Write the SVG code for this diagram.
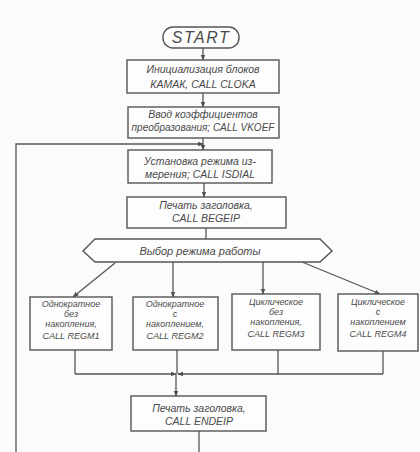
<svg xmlns="http://www.w3.org/2000/svg" width="420" height="452" viewBox="0 0 420 452">
<defs>
<marker id="ah" viewBox="0 0 10 10" refX="9" refY="5" markerWidth="6" markerHeight="6" orient="auto" markerUnits="userSpaceOnUse"><path d="M0,1 L10,5 L0,9 z" fill="#505050"/></marker>
</defs>
<style>
.b{fill:#fdfdfd;stroke:#555;stroke-width:1.4}
.c{fill:none;stroke:#555;stroke-width:1.3}
.t{font-family:"Liberation Sans",Arial,sans-serif;font-style:italic;fill:#4a4a4a;text-anchor:middle}
.m{font-size:10.5px}
.s{font-size:9px}
</style>
<rect width="420" height="452" fill="#fbfbfb"/>
<g id="connectors">
<line class="c" x1="203" y1="48" x2="203" y2="60" marker-end="url(#ah)"/>
<line class="c" x1="203" y1="93" x2="203" y2="107" marker-end="url(#ah)"/>
<line class="c" x1="203" y1="138" x2="203" y2="150" marker-end="url(#ah)"/>
<polyline class="c" points="16,452 16,144 203,144" marker-end="url(#ah)"/>
<line class="c" x1="204" y1="183" x2="204" y2="197" marker-end="url(#ah)"/>
<line class="c" x1="206" y1="228" x2="206" y2="239"/>
<line class="c" x1="115" y1="263" x2="73" y2="297" marker-end="url(#ah)"/>
<line class="c" x1="173" y1="262" x2="173" y2="297" marker-end="url(#ah)"/>
<line class="c" x1="263" y1="262" x2="263" y2="294" marker-end="url(#ah)"/>
<line class="c" x1="302" y1="262" x2="380" y2="294" marker-end="url(#ah)"/>
<line class="c" x1="75" y1="350" x2="75" y2="374"/>
<line class="c" x1="177" y1="350" x2="177" y2="374"/>
<line class="c" x1="278" y1="350" x2="278" y2="374"/>
<line class="c" x1="383" y1="351" x2="383" y2="374"/>
<line class="c" x1="75" y1="374" x2="176" y2="374" marker-end="url(#ah)"/>
<line class="c" x1="383" y1="374" x2="178" y2="374" marker-end="url(#ah)"/>
<line class="c" x1="176" y1="374" x2="176" y2="396" marker-end="url(#ah)"/>
<line class="c" x1="199" y1="431" x2="199" y2="452"/>
</g>
<g id="start">
<rect class="b" x="163" y="27" width="76" height="21" rx="10" ry="10"/>
<text class="t" x="201" y="43" font-size="16" letter-spacing="1.5">START</text>
</g>
<g id="init">
<rect class="b" x="127" y="60" width="152" height="33"/>
<text class="t m" x="203" y="73">Инициализация блоков</text>
<text class="t m" x="203" y="88">КАМАК, CALL CLOKA</text>
</g>
<g id="koef">
<rect class="b" x="128" y="107" width="151" height="31"/>
<text class="t m" x="203" y="118">Ввод коэффициентов</text>
<text class="t" font-size="10" x="203" y="131">преобразования; CALL VKOEF</text>
</g>
<g id="mode">
<rect class="b" x="128" y="150" width="144" height="33"/>
<text class="t m" x="200" y="165">Установка режима из-</text>
<text class="t m" x="200" y="178">мерения; CALL ISDIAL</text>
</g>
<g id="head1">
<rect class="b" x="127" y="197" width="159" height="31"/>
<text class="t m" x="206" y="209">Печать заголовка,</text>
<text class="t m" x="206" y="222">CALL BEGEIP</text>
</g>
<g id="select">
<polygon class="b" points="83,251 95,239 320,239 332,251 320,262 95,262"/>
<text class="t" x="200" y="255" font-size="11">Выбор режима работы</text>
</g>
<g id="regm1">
<rect class="b" x="30" y="297" width="82" height="53"/>
<text class="t s" x="71" y="307">Однократное</text>
<text class="t s" x="71" y="317">без</text>
<text class="t s" x="71" y="327">накопления,</text>
<text class="t s" x="71" y="339">CALL REGM1</text>
</g>
<g id="regm2">
<rect class="b" x="133" y="297" width="85" height="53"/>
<text class="t s" x="175" y="307">Однократное</text>
<text class="t s" x="175" y="317">с</text>
<text class="t s" x="175" y="327">накоплением,</text>
<text class="t s" x="175" y="339">CALL REGM2</text>
</g>
<g id="regm3">
<rect class="b" x="232" y="294" width="88" height="56"/>
<text class="t s" x="276" y="305">Циклическое</text>
<text class="t s" x="276" y="315">без</text>
<text class="t s" x="276" y="325">накопления,</text>
<text class="t s" x="276" y="337">CALL REGM3</text>
</g>
<g id="regm4">
<rect class="b" x="338" y="294" width="80" height="57"/>
<text class="t s" x="378" y="305">Циклическое</text>
<text class="t s" x="378" y="315">с</text>
<text class="t s" x="378" y="325">накоплением</text>
<text class="t s" x="378" y="337">CALL REGM4</text>
</g>
<g id="head2">
<rect class="b" x="131" y="396" width="135" height="35"/>
<text class="t m" x="199" y="412">Печать заголовка,</text>
<text class="t m" x="199" y="425">CALL ENDEIP</text>
</g>
</svg>
